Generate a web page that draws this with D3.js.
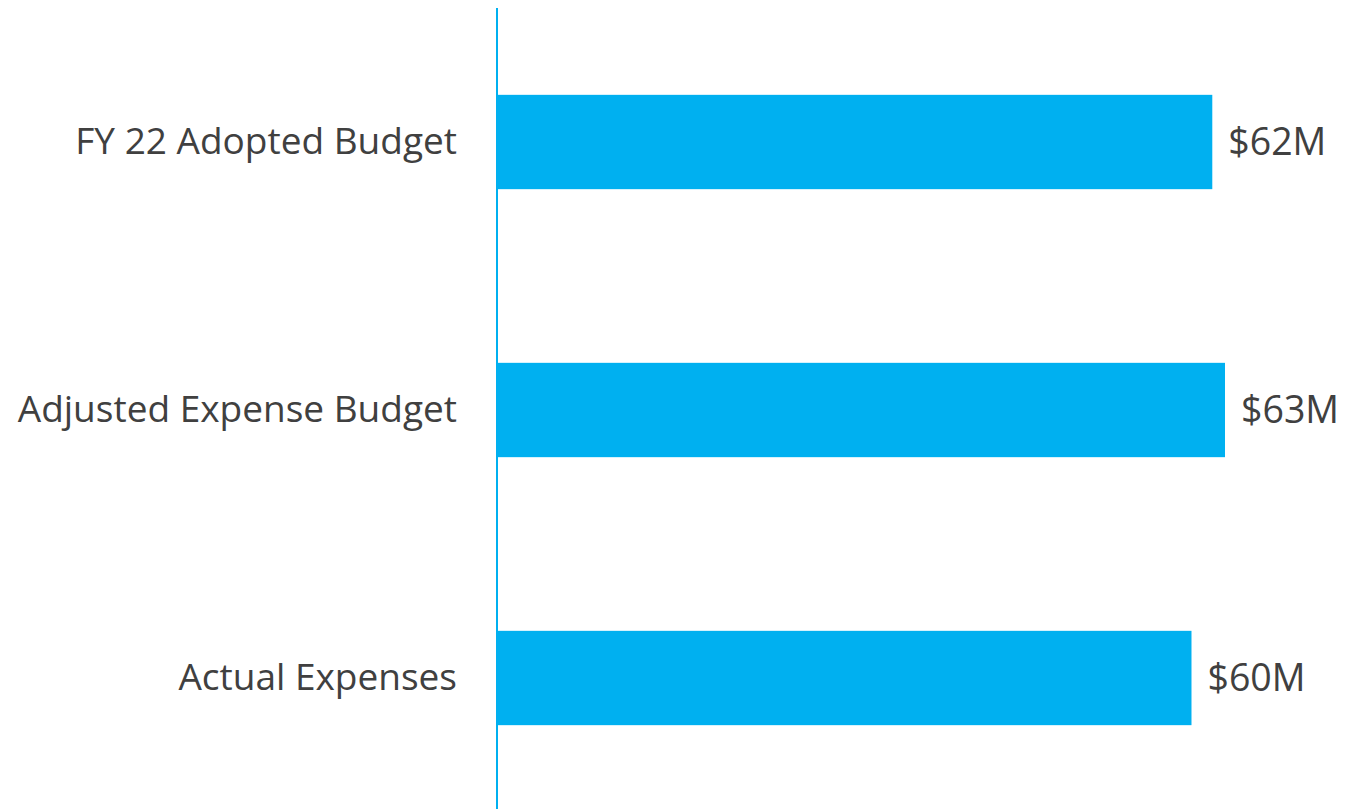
<!DOCTYPE html>
<html>
<head>
<meta charset="utf-8">
<script src="https://cdn.jsdelivr.net/npm/d3@7"></script>
<style>
  body { margin: 0; background: #fff; }
  svg text { font-family: "Open Sans", sans-serif; fill: #404040; }
</style>
</head>
<body>
<svg id="chart" width="1346" height="809"></svg>
<script>
// data (in $M)
const categories = ["FY 22 Adopted Budget", "Adjusted Expense Budget", "Actual Expenses"];
const values = [61.9, 63.0, 60.1];
const valueLabels = ["$62M", "$63M", "$60M"];

const width = 1346, height = 809;
const margin = { top: 8, right: 121, bottom: -3, left: 497 };

const svg = d3.select("#chart");

const x = d3.scaleLinear()
    .domain([0, 63])
    .range([margin.left, width - margin.right]);

const y = d3.scaleBand()
    .domain(categories)
    .range([margin.top, height - margin.bottom])
    .paddingInner(0.648)
    .paddingOuter(0.324);

const rows = categories.map((c, i) => ({ cat: c, value: values[i], label: valueLabels[i] }));

// bars
svg.append("g").selectAll("rect")
    .data(rows)
    .join("rect")
    .attr("x", x(0))
    .attr("y", d => y(d.cat))
    .attr("width", d => x(d.value) - x(0))
    .attr("height", y.bandwidth())
    .attr("fill", "#00B0F0");

// value labels
svg.append("g").selectAll("text")
    .data(rows)
    .join("text")
    .attr("x", d => x(d.value) + 16)
    .attr("y", d => y(d.cat) + y.bandwidth() / 2)
    .attr("dy", "0.35em")
    .attr("font-size", 37.5)
    .text(d => d.label);

// category axis
const axis = svg.append("g")
    .attr("transform", `translate(${x(0)},0)`)
    .call(d3.axisLeft(y).tickSize(0).tickPadding(40));

axis.select(".domain")
    .attr("stroke", "#00B0F0")
    .attr("stroke-width", 2)
    .attr("d", `M0,${margin.top}V${height}`);

axis.selectAll("text")
    .attr("font-size", 37)
    .attr("fill", "#404040")
    .style("font-family", "'Open Sans', sans-serif");
</script>
</body>
</html>
